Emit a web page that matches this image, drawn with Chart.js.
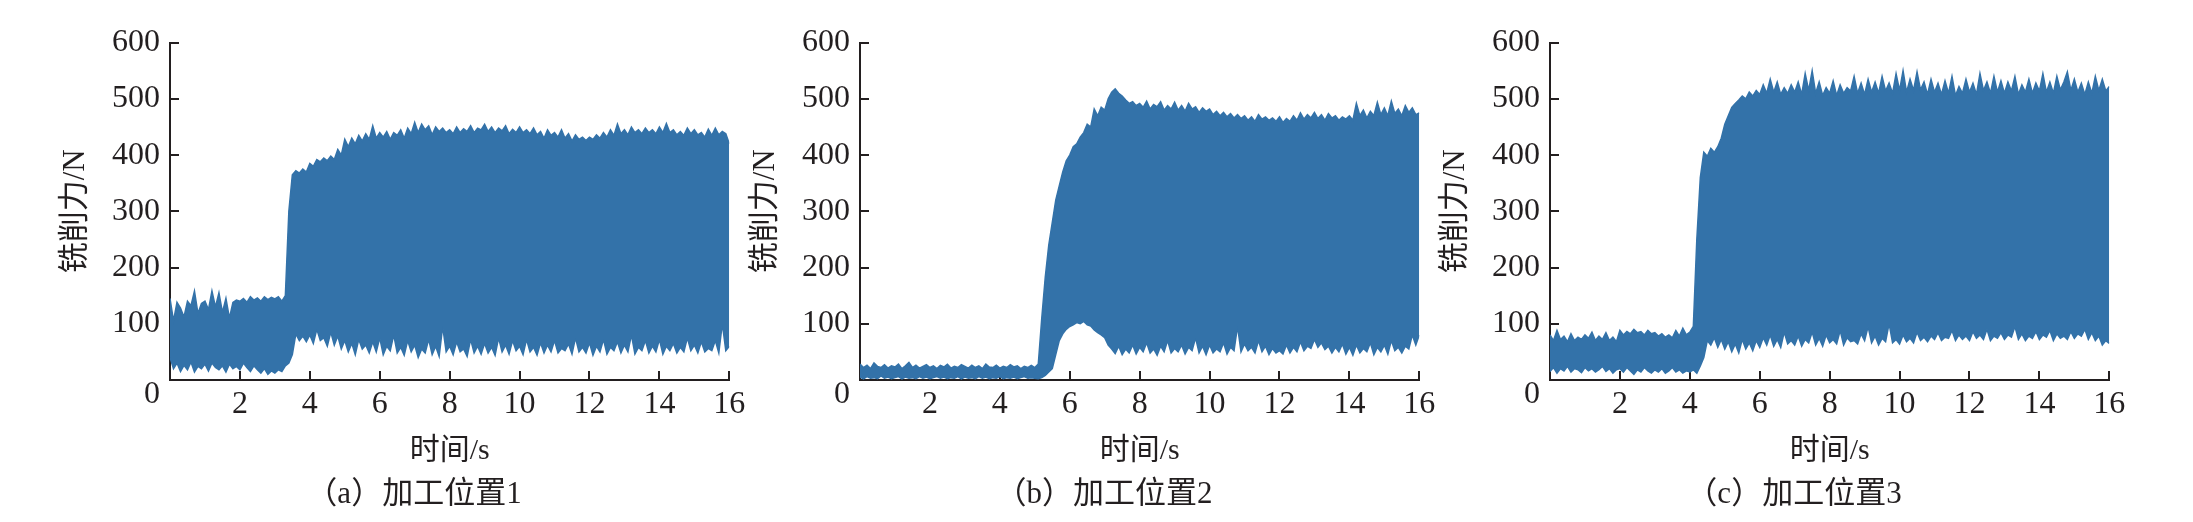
<!DOCTYPE html>
<html>
<head>
<meta charset="utf-8">
<script src="https://cdn.jsdelivr.net/npm/chart.js@4/dist/chart.umd.min.js"></script>
<style>
  html, body { margin: 0; padding: 0; background: #fff; }
  body { width: 2193px; height: 522px; position: relative; overflow: hidden; }
  .panel { position: absolute; top: 0; width: 828px; height: 522px; }
</style>
</head>
<body>
<div class="panel" style="left:0px"><canvas id="chartA" width="828" height="522"></canvas></div>
<div class="panel" style="left:690px"><canvas id="chartB" width="828" height="522"></canvas></div>
<div class="panel" style="left:1380px"><canvas id="chartC" width="828" height="522"></canvas></div>
<script>
// sample spacing of the envelope readings, seconds
const STEP = 0.1;

const yTitle = "铣削力/N";
const xTitle = "时间/s";
const captions = ["（a）加工位置1", "（b）加工位置2", "（c）加工位置3"];

// ------------------ position 1 ------------------
const upperA = [
  145, 105, 138, 128, 112, 140, 132, 158, 118, 136,
  140, 125, 158, 130, 155, 120, 145, 110, 138, 142,
  140, 145, 138, 148, 142, 146, 140, 148, 143, 147,
  144, 148, 140, 150, 300, 365, 372, 368, 375, 370,
  385, 380, 392, 388, 395, 390, 398, 392, 410, 400,
  428, 415, 430, 420, 435, 425, 438, 428, 452, 430,
  440, 432, 442, 428, 440, 435, 445, 430, 448, 438,
  458, 440, 455, 445, 452, 436, 450, 442, 448, 440,
  445, 438, 450, 440, 447, 442, 452, 440, 448, 445,
  455, 442, 450, 440, 448, 443, 452, 438, 446, 440,
  450, 440, 445, 438, 448, 436, 442, 430, 445, 435,
  440, 432, 445, 430, 438, 425, 436, 428, 432, 426,
  432, 428, 436, 430, 440, 432, 445, 435, 455, 438,
  445, 436, 450, 440, 445, 438, 448, 440, 445, 438,
  450, 440, 456, 440, 445, 436, 442, 435, 448, 438,
  445, 436, 440, 432, 446, 435, 448, 436, 442, 438,
  420
];
const lowerA = [
  40, 20, 30, 15, 26, 18, 32, 14, 24, 20,
  28, 16, 30, 22, 18, 25, 14, 28, 20, 24,
  18, 30, 22, 15, 25, 18, 12, 20, 10, 16,
  12, 18, 15, 25, 30, 45, 82, 70, 78, 68,
  80, 65, 90, 70, 75, 60, 85, 62, 78, 55,
  70, 50, 65, 45, 72, 55, 62, 48, 68, 50,
  75, 45, 60, 52, 80, 48, 58, 44, 70, 50,
  62, 40, 55, 48, 72, 45, 60, 42, 95, 50,
  60, 45, 68, 50, 55, 42, 72, 48, 60, 46,
  65, 48, 58, 44, 75, 50, 62, 46, 70, 52,
  60, 45, 72, 50, 58, 44, 66, 48, 62, 50,
  70, 48, 56, 52, 64, 46, 75, 50, 58, 48,
  66, 44, 60, 50, 72, 46, 58, 52, 68, 48,
  62, 50, 80, 46, 58, 52, 70, 48, 60, 50,
  72, 46, 60, 52, 65, 48, 58, 50, 75, 52,
  62, 48, 68, 50, 56, 52, 70, 48, 100, 52,
  60
];

// ------------------ position 2 ------------------
const upperB = [
  28, 22, 26, 20, 30, 24, 22, 27, 21, 25,
  23, 28, 20, 25, 31, 22, 26, 21, 24, 27,
  22, 25, 20, 26, 23, 28, 21, 24, 22, 27,
  24, 21, 26, 22, 25, 20, 28, 23, 22, 26,
  21, 24, 22, 27, 23, 25, 20, 24, 22, 26,
  22, 28, 110, 183, 240, 280, 320, 345, 370, 390,
  400, 415, 420, 432, 440, 455, 450, 482, 470, 485,
  480, 500, 512, 518, 510, 505, 498, 492, 495, 488,
  492, 485, 496, 482, 490, 486, 495, 480, 488, 482,
  494, 480, 488, 478, 492, 482, 486, 476, 484, 478,
  482, 472, 478, 470, 476, 468, 474, 466, 472, 465,
  470, 462, 468, 460, 472, 464, 468, 462, 466, 460,
  468, 458, 465, 460, 470, 462, 475, 464, 472, 466,
  476, 465, 472, 462, 474, 466, 470, 462, 468, 464,
  470, 462, 492, 470, 480, 466, 478, 470, 494, 472,
  484, 470, 496, 474, 482, 470, 488, 476, 484, 472,
  475
];
const lowerB = [
  5, 2, 6, 3, 4, 2, 7, 3, 5, 2,
  4, 6, 2, 5, 3, 4, 2, 6, 3, 5,
  2, 4, 6, 3, 5, 2, 4, 3, 6, 2,
  5, 3, 4, 2, 6, 3, 5, 2, 4, 3,
  6, 2, 4, 3, 5, 2, 4, 6, 3, 4,
  3, 2, 4, 8, 14, 20, 45, 70, 82, 90,
  95, 98, 102, 100, 104, 98, 96, 89, 84, 80,
  75, 62, 55, 47, 60, 45, 55, 48, 62, 46,
  58, 50, 66, 48, 55, 44, 60, 50, 70, 48,
  56, 50, 62, 46, 58, 52, 75, 48, 60, 45,
  62, 48, 55, 50, 66, 46, 58, 52, 95, 50,
  64, 52, 58, 48, 70, 50, 60, 45, 56, 48,
  52, 46, 62, 48, 58, 50, 68, 52, 60, 56,
  72, 58, 66, 54, 60, 48, 58, 50, 64, 46,
  58, 44, 62, 48, 56, 50, 66, 45, 58, 50,
  62, 46, 70, 52, 58, 48, 60, 55, 80, 62,
  80
];

// ------------------ position 3 ------------------
const upperC = [
  80, 70, 88, 72, 78, 68, 82, 70, 76, 72,
  80, 74, 85, 70, 78, 72, 84, 70, 76, 68,
  88, 80, 86, 82, 90, 84, 86, 80, 88, 82,
  84, 78, 82, 76, 80, 75, 88, 78, 92, 80,
  85, 95, 250, 360, 405, 398, 412, 405, 415, 430,
  455, 470, 485, 492, 498, 505, 500, 512, 505, 515,
  508, 525, 510, 535, 512, 530, 508, 520, 510, 525,
  512, 530, 508, 545, 515, 550, 510, 530, 506, 520,
  510, 532, 506, 525, 510, 520, 514, 540, 510, 528,
  508, 535, 512, 530, 510, 540, 514, 528, 510, 545,
  515, 550, 512, 535, 515, 548, 516, 530, 508, 535,
  512, 528, 508, 532, 510, 540, 506, 522, 510, 535,
  512, 528, 508, 545, 515, 530, 510, 540, 512, 532,
  510, 530, 514, 540, 508, 525, 512, 535, 510, 528,
  514, 545, 512, 530, 510, 540, 516, 530, 548, 515,
  535, 512, 528, 508, 530, 510, 540, 515, 535, 514,
  522
];
const lowerC = [
  15, 22, 12, 20, 16, 24, 14, 20, 18, 13,
  22, 16, 20, 14, 18, 24, 15, 20, 12, 18,
  20, 14, 22, 16, 10, 18, 14, 22, 16, 12,
  18, 14, 20, 12, 16, 22, 14, 18, 12, 16,
  14, 18, 12, 25, 40, 70, 62, 75, 58, 72,
  55, 68, 50, 64, 48, 72, 55, 66, 52, 70,
  58, 75, 62, 80, 60, 72, 58, 85, 64, 70,
  62, 78, 60, 72, 66, 85, 62, 74, 60, 80,
  66, 72, 64, 88, 62, 75, 68, 70, 64, 82,
  70, 95, 66, 78, 62, 74, 68, 100, 66, 72,
  64, 80, 68, 74, 66, 85, 70, 76, 68, 78,
  72, 84, 70, 76, 74, 88, 70, 80, 72, 78,
  70, 86, 74, 80, 72, 90, 70, 78, 74, 84,
  72, 80, 76, 95, 72, 82, 70, 78, 74, 86,
  72, 80, 76, 88, 70, 82, 74, 78, 72, 86,
  74, 82, 78, 90, 72, 84, 70, 78, 62, 70,
  65
];

const BLUE = "#3372a9";
const INK = "#231f20";
const SERIF = "'Liberation Serif', 'Times New Roman', serif";
const MIXED = "'Liberation Serif', 'Noto Sans CJK SC', serif";

function toPoints(values) {
  return values.map((v, i) => ({ x: Math.round(i * STEP * 100) / 100, y: v }));
}

function makePanel(id, upper, lower, caption) {
  const ctx = document.getElementById(id).getContext("2d");
  const axisLine = { display: true, drawOnChartArea: false, drawTicks: true, tickLength: -9, color: INK, lineWidth: 2 };
  new Chart(ctx, {
    type: "line",
    data: {
      datasets: [
        { data: toPoints(upper), borderColor: BLUE, backgroundColor: BLUE, borderWidth: 1.5, pointRadius: 0, tension: 0, fill: "+1" },
        { data: toPoints(lower), borderColor: BLUE, backgroundColor: BLUE, borderWidth: 1.5, pointRadius: 0, tension: 0, fill: false }
      ]
    },
    options: {
      responsive: false,
      animation: false,
      devicePixelRatio: 1,
      layout: { padding: { left: 98.7, right: 98.7, top: 42.7, bottom: 0 } },
      plugins: {
        legend: { display: false },
        tooltip: { enabled: false },
        title: {
          display: true, position: "bottom", text: caption, color: INK,
          font: { family: MIXED, size: 31, weight: "normal", lineHeight: 1.2 },
          padding: { top: 0, bottom: 8.4 }
        }
      },
      scales: {
        x: {
          type: "linear", min: 0, max: 16, z: 1,
          ticks: {
            stepSize: 2, padding: 14, color: INK, autoSkip: false, maxRotation: 0,
            font: { family: SERIF, size: 32 },
            callback: v => v === 0 ? "" : v
          },
          grid: axisLine,
          border: { display: true, color: INK, width: 2 },
          title: { display: true, text: xTitle, color: INK, font: { family: MIXED, size: 30, lineHeight: 1.2 }, padding: { top: 0, bottom: 7.5 } },
          afterFit: s => { s.height = 96.5; }
        },
        y: {
          min: 0, max: 600, z: 1,
          ticks: {
            stepSize: 100, padding: 19, color: INK, autoSkip: false,
            font: c => ({ family: SERIF, size: 32, lineHeight: c.tick && c.tick.value === 0 ? "30px" : 1.2 }),
            callback: v => v === 0 ? ["", "0"] : v
          },
          grid: axisLine,
          border: { display: true, color: INK, width: 2 },
          title: { display: true, text: yTitle, color: INK, font: { family: MIXED, size: 31, lineHeight: 1.2 }, padding: { top: -41.3, bottom: 0 } },
          afterFit: s => { s.width = 71.3; }
        }
      }
    }
  });
}

makePanel("chartA", upperA, lowerA, captions[0]);
makePanel("chartB", upperB, lowerB, captions[1]);
makePanel("chartC", upperC, lowerC, captions[2]);
</script>
</body>
</html>
